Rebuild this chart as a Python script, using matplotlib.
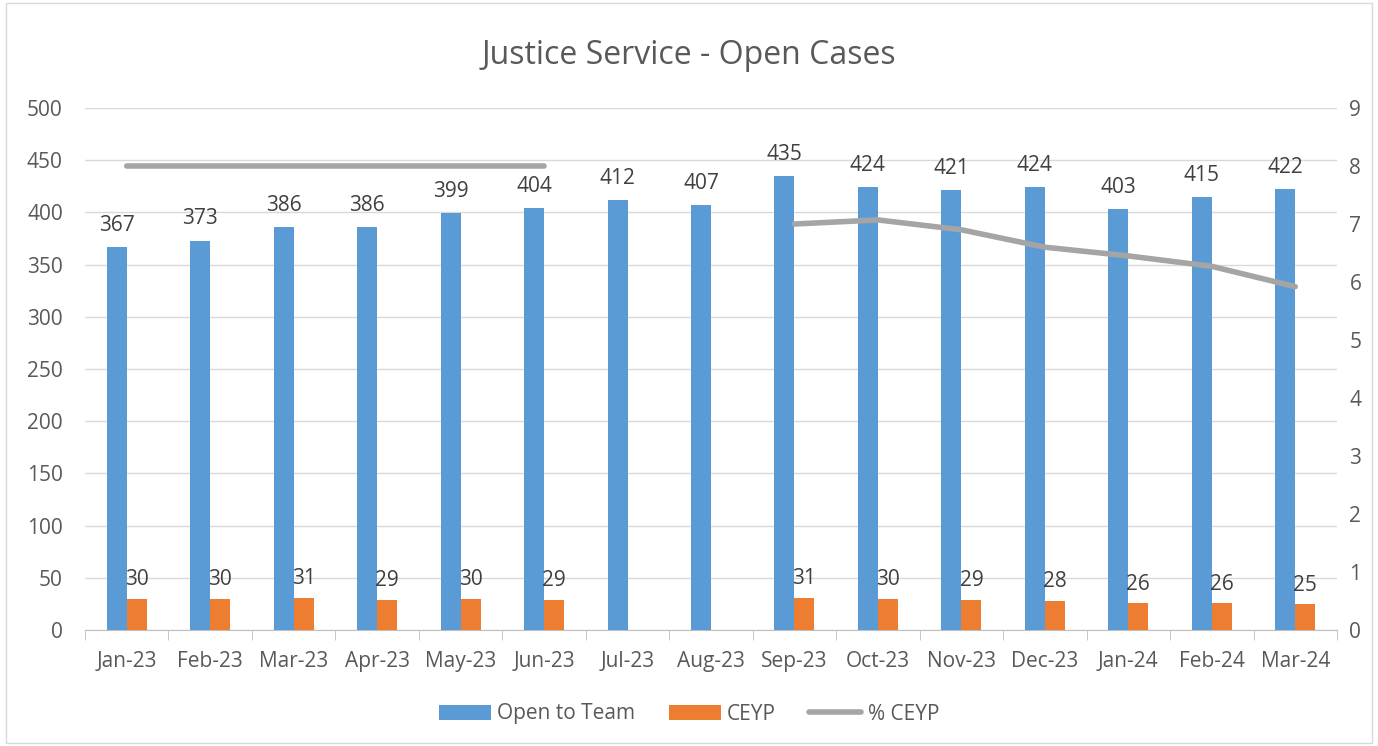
import numpy as np
import matplotlib.pyplot as plt
from matplotlib.patches import Rectangle

months = ["Jan-23", "Feb-23", "Mar-23", "Apr-23", "May-23", "Jun-23", "Jul-23", "Aug-23",
          "Sep-23", "Oct-23", "Nov-23", "Dec-23", "Jan-24", "Feb-24", "Mar-24"]
open_to_team = [367, 373, 386, 386, 399, 404, 412, 407, 435, 424, 421, 424, 403, 415, 422]
ceyp = [30, 30, 31, 29, 30, 29, None, None, 31, 30, 29, 28, 26, 26, 25]
pct_ceyp = [8.0, 8.0, 8.0, 8.0, 8.0, 8.0, None, None, 7.0, 7.07, 6.9, 6.6, 6.45, 6.27, 5.92]

plt.rcParams['font.family'] = ['Open Sans', 'DejaVu Sans']
txt = '#595959'
blue, orange, grey = '#5B9BD5', '#ED7D31', '#A5A5A5'

fig = plt.figure(figsize=(13.78, 7.46), dpi=100)
fig.patches.append(Rectangle((0.004, 0.004), 0.992, 0.992, transform=fig.transFigure,
                             fill=False, edgecolor='#D9D9D9', linewidth=1))
ax = fig.add_axes([85/1378, 1 - 630/746, (1337-85)/1378, (630-108)/746])
ax2 = ax.twinx()

x = np.arange(len(months))
w = 0.24
ceyp_vals = np.array([np.nan if v is None else v for v in ceyp], dtype=float)
pct_vals = np.array([np.nan if v is None else v for v in pct_ceyp], dtype=float)

b1 = ax.bar(x - w/2, open_to_team, w, color=blue, label='Open to Team', zorder=3)
b2 = ax.bar(x + w/2, np.nan_to_num(ceyp_vals), w, color=orange, label='CEYP', zorder=3)
for xi, v in zip(x, open_to_team):
    ax.annotate(str(v), (xi - w/2, v), xytext=(0, 8), textcoords='offset points',
                ha='center', va='bottom', fontsize=15, color='#404040')
for xi, v in zip(x, ceyp_vals):
    if not np.isnan(v):
        ax.annotate(str(int(v)), (xi + w/2, v), xytext=(0, 6), textcoords='offset points',
                    ha='center', va='bottom', fontsize=15, color='#404040')

ax2.plot(x, pct_vals, color=grey, linewidth=4, solid_capstyle='round', label='% CEYP', zorder=4)

ax.set_xlim(-0.5, len(months) - 0.5)
ax.set_ylim(0, 500)
ax.set_yticks(range(0, 501, 50))
ax2.set_ylim(0, 9)
ax2.set_yticks(range(0, 10))
ax.grid(axis='y', color='#D9D9D9', linewidth=1, zorder=0)
ax.set_axisbelow(True)

ax.set_xticks(x)
ax.set_xticklabels(months)
ax.set_xticks(np.arange(-0.5, len(months)), minor=True)
ax.tick_params(axis='x', which='major', length=0, pad=15, labelsize=15, labelcolor=txt)
ax.tick_params(axis='x', which='minor', length=7, color='#BFBFBF', direction='out')
ax.tick_params(axis='y', length=0, labelsize=15, labelcolor=txt, pad=16)
ax2.tick_params(axis='y', length=0, labelsize=15, labelcolor=txt, pad=9)

for a in (ax, ax2):
    for s in a.spines.values():
        s.set_visible(False)
ax.spines['bottom'].set_visible(True)
ax.spines['bottom'].set_color('#BFBFBF')

fig.text(0.5, 1 - 55/746, 'Justice Service - Open Cases', ha='center', va='center',
         fontsize=23, color=txt)

handles = [b1, b2, ax2.get_lines()[0]]
fig.legend(handles, [h.get_label() for h in handles], loc='center', bbox_to_anchor=(0.5, 1 - 714/746),
           ncol=3, frameon=False, fontsize=15, labelcolor=txt, handlelength=2.5, columnspacing=1.6,
           handletextpad=0.3)

fig.savefig('out.png', dpi=100)
